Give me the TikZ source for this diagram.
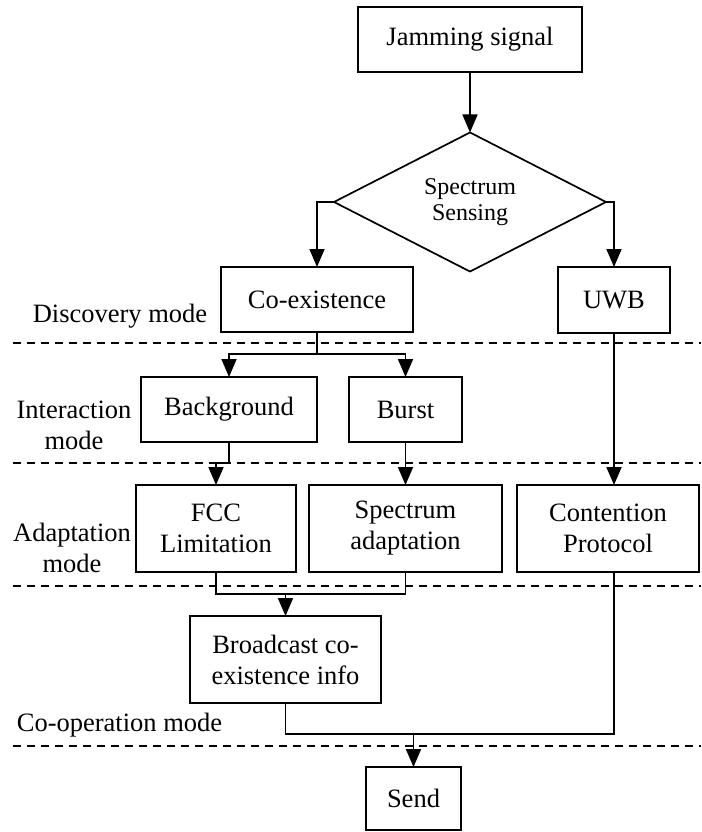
\documentclass[tikz,border=0pt]{standalone}
\usepackage{fontspec}
\setmainfont{Liberation Serif}
\usetikzlibrary{shapes.geometric,arrows.meta,calc}
\begin{document}
\begin{tikzpicture}[x=1pt,y=-1pt,
  line width=1.7pt,
  txt/.style={font=\fontsize{26.5}{31}\selectfont, align=center, inner sep=0pt},
  box/.style={txt, draw, rectangle, outer sep=0pt},
  arr/.style={-{Triangle[width=15pt,length=18pt]}},
  sep/.style={dash pattern=on 8pt off 6pt, line width=1.6pt}
]
\useasboundingbox (0,0) rectangle (701,832);
\fill[white] (0,0) rectangle (701,832);

% boxes
\node[box, minimum width=224pt, minimum height=65pt] (jam) at (470,39.5) {Jamming signal};
\node[draw, diamond, outer sep=0pt, inner sep=0pt, minimum width=272pt, minimum height=130pt,
      font=\fontsize{24}{26}\selectfont, align=center] (sense) at (470,202) {Spectrum\\Sensing};
\node[box, minimum width=192pt, minimum height=65pt] (coex) at (317,299.5) {Co-existence};
\node[box, minimum width=112pt, minimum height=66pt] (uwb) at (614,300) {UWB};
\node[box, minimum width=176pt, minimum height=65pt] (bg) at (229,409.5) {Background};
\node[box, minimum width=113pt, minimum height=65pt] (burst) at (405.5,409.5) {Burst};
\node[box, minimum width=160pt, minimum height=87pt] (fcc) at (216,528.5) {FCC\\Limitation};
\node[box, minimum width=193pt, minimum height=87pt] (spec) at (405.5,528.5) {Spectrum\\adaptation};
\node[box, minimum width=182pt, minimum height=87pt] (cont) at (608,528.5) {Contention\\Protocol};
\node[box, minimum width=191pt, minimum height=87pt] (bcast) at (285.5,659.5) {Broadcast co-\\existence info};
\node[box, minimum width=95pt, minimum height=63pt] (send) at (413.5,798.5) {Send};

% mode labels
\node[txt] (ldisc) at (120,316) {Discovery mode};
\node[txt] (linter) at (74,425) {Interaction\\mode};
\node[txt] (ladapt) at (72,548) {Adaptation\\mode};
\node[txt] (lcoop) at (119.5,725) {Co-operation mode};

% separators
\draw[sep] (13,343) -- (701,343);
\draw[sep] (13,463) -- (701,463);
\draw[sep] (13,586) -- (701,586);
\draw[sep] (13,746) -- (701,746);

% connectors
\draw[arr] (jam.south) -- (sense.north);
\draw[arr] (sense.west) -| (coex.north);
\draw[arr] (sense.east) -| (uwb.north);

\draw (coex.south) -- ++(0,22) coordinate (j1);
\draw[arr] (j1) -| (bg.north);
\draw[arr] (j1) -| (burst.north);

\draw[arr] (bg.south) -- ++(0,21) coordinate (j2) -| (fcc.north);
\draw[arr] (burst.south) -- (spec.north);
\draw[arr] (uwb.south) -- (uwb.south |- cont.north);

\draw (fcc.south) -- ++(0,22) coordinate (j3) -- (j3 -| spec.south) -- (spec.south);
\draw[arr] (j3 -| bcast.north) -- (bcast.north);

\draw (bcast.south) -- ++(0,31) coordinate (j4) -- (j4 -| uwb.south) -- (uwb.south |- cont.south);
\draw[arr] (j4 -| send.north) -- (send.north);
\end{tikzpicture}
\end{document}
